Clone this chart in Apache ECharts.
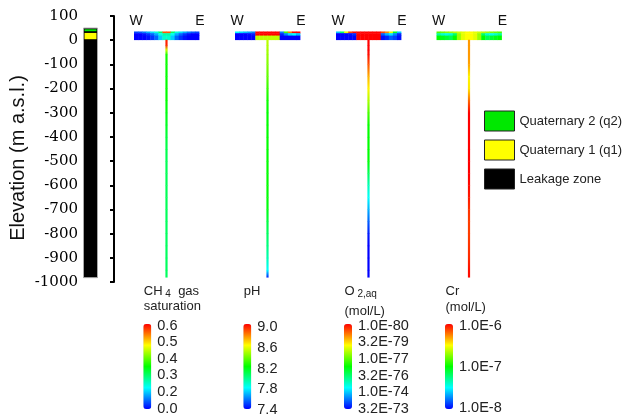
<!DOCTYPE html>
<html><head><meta charset="utf-8">
<script src="https://cdn.jsdelivr.net/npm/echarts@6/dist/echarts.min.js"></script>
<style>html,body{margin:0;padding:0;background:#fff}#c{width:633px;height:420px}</style>
</head><body><div id="c"></div>
<script>
// ---------------- data ----------------
const elevMin = -1000, elevMax = 100, elevStep = 100;

const layerNames  = ['Quaternary 2 (q2)', 'Quaternary 1 (q1)', 'Leakage zone'];
const layerTop    = [45, 30, 50];
const layerBottom = [37, 4, -982];
const layerColors = ['#00e800', '#ffff00', '#000000'];

const panelTitle1 = ['{n|CH}{s| 4}{n|  gas}', '{n|pH}', '{n|O}{s| 2,aq}', '{n|Cr}'];
const panelTitle2 = ['saturation', '', '(mol/L)', '(mol/L)'];
const sideLabels = ['W', 'E'];

// value at blue end / value at red end of each colour scale
const colorLow  = [0.0, 7.4, -72.5, -8];   // O2 and Cr in log10(mol/L)
const colorHigh = [0.6, 9.0, -80.0, -6];

// colour-bar tick labels (bottom -> top)
const cbLabelsCH4 = ['0.0', '0.2', '0.3', '0.4', '0.5', '0.6'];
const cbLabelsPH  = ['7.4', '7.8', '8.2', '8.6', '9.0'];
const cbLabelsO2  = ['3.2E-73', '1.0E-74', '3.2E-76', '1.0E-77', '3.2E-79', '1.0E-80'];
const cbLabelsCr  = ['1.0E-8', '1.0E-7', '1.0E-6'];

// well (stem) profiles: values at elevation nodes
const stemElev = [2, -20, -40, -60, -100, -150, -200, -250, -300, -350, -400, -450, -500,
                  -550, -600, -650, -700, -750, -800, -850, -900, -950, -980];
const stemCH4 = [0.58, 0.58, 0.42, 0.31, 0.305, 0.30, 0.30, 0.30, 0.29, 0.28, 0.265, 0.255, 0.25,
                 0.25, 0.25, 0.25, 0.248, 0.246, 0.245, 0.245, 0.245, 0.245, 0.245];
const stemPH  = [8.5, 8.48, 8.46, 8.44, 8.4, 8.35, 8.28, 8.22, 8.2, 8.2, 8.2, 8.2, 8.2,
                 8.2, 8.2, 8.19, 8.17, 8.1, 8.05, 8.0, 7.92, 7.8, 7.45];
const stemO2  = [-80, -80, -80, -79.9, -79.4, -78.7, -78.2, -77.5, -76.8, -76.3, -76.25, -76.25, -76.2,
                 -75.6, -74.9, -74.4, -73.8, -73.2, -72.7, -72.5, -72.5, -72.5, -72.5];
const stemCr  = [-6.3, -6.3, -6.3, -6.3, -6.32, -6.48, -6.45, -6.2, -6.0, -6.0, -6.0, -6.0, -6.0,
                 -6.0, -6.02, -6.05, -6.1, -6.12, -6.12, -6.1, -6.08, -6.03, -6.02];

// near-surface cross-section (W -> E), three layers top -> bottom
const slabRowElev = [36, 29, 19, 2];
const slabCH4 = [
  [0.04,0.05,0.07,0.10,0.13,0.17,0.24,0.55,0.55,0.24,0.17,0.13,0.10,0.07,0.05,0.04],
  [0.00,0.00,0.01,0.03,0.06,0.10,0.16,0.20,0.20,0.16,0.10,0.06,0.03,0.01,0.00,0.00],
  [0.00,0.00,0.00,0.01,0.03,0.06,0.12,0.18,0.18,0.12,0.06,0.03,0.01,0.00,0.00,0.00]];
const slabPH = [
  [7.80,7.75,7.70,7.65,7.60,9.0,9.0,9.0,9.0,9.0,9.0,7.60,8.30,8.80,9.00,9.00],
  [7.40,7.40,7.40,7.42,7.45,9.0,9.0,9.0,9.0,9.0,9.0,7.45,7.60,7.75,7.80,7.70],
  [7.40,7.40,7.40,7.40,7.40,8.5,8.5,8.5,8.5,8.5,8.5,7.40,7.40,7.40,7.40,7.40]];
const slabO2 = [
  [-74.0,-75.5,-78.0,-79.5,-80,-80,-80,-80,-80,-80,-80,-79.5,-79.0,-78.0,-76.0,-74.0],
  [-72.5,-72.5,-72.5,-72.6,-72.8,-80,-80,-80,-80,-80,-80,-73.2,-73.8,-74.2,-73.5,-72.8],
  [-72.5,-72.5,-72.5,-72.5,-72.5,-80,-80,-80,-80,-80,-80,-72.6,-72.8,-73.2,-73.0,-72.6]];
const slabCr = [
  [-6.85,-6.80,-6.75,-6.70,-6.65,-6.60,-6.55,-6.50,-6.50,-6.55,-6.60,-6.65,-6.70,-6.75,-6.80,-6.85],
  [-7.30,-7.40,-7.45,-7.40,-7.20,-6.70,-6.55,-6.50,-6.50,-6.55,-6.70,-7.20,-7.40,-7.45,-7.40,-7.30],
  [-7.00,-7.05,-7.10,-7.15,-7.00,-6.70,-6.55,-6.50,-6.50,-6.55,-6.70,-7.00,-7.15,-7.10,-7.05,-7.00]];

const stems = [stemCH4, stemPH, stemO2, stemCr];
const slabs = [slabCH4, slabPH, slabO2, slabCr];
const cbLabels = [cbLabelsCH4, cbLabelsPH, cbLabelsO2, cbLabelsCr];

// ---------------- layout / style ----------------
const JET = ['#0000ff', '#00ffff', '#00ff00', '#ffff00', '#ff0000'];
const SANS = 'Liberation Sans';
const GT = 16, GH = 266;
const slabLeft = [134, 235, 336, 436.5];
const slabWidthUnits = 64, slabColW = 4;
const cbLeft = [143.3, 243.3, 344, 445];
const cbTop = 324, cbH = 85;
const cbLabTop = [325.5, 327.3, 325.8, 326];
const cbLabH = [83.2, 82.7, 83.2, 82.3];
const titleY1 = 291.5, titleY2 = [306.7, 0, 311.5, 307.5];

function jetColor(p, v) {
  let t = (v - colorLow[p]) / (colorHigh[p] - colorLow[p]);
  t = Math.max(0, Math.min(1, t));
  return echarts.color.lerp(t, JET);
}

const grids = [], xAxes = [], yAxes = [], series = [], visualMaps = [], graphics = [];
// grid 0: elevation axis
grids.push({left: 114, top: GT, width: 1, height: GH});
xAxes.push({gridIndex: 0, type: 'value', min: 0, max: 1, show: false});
yAxes.push({gridIndex: 0, type: 'value', min: elevMin, max: elevMax, interval: elevStep,
  name: 'Elevation (m a.s.l.)', nameLocation: 'middle', nameGap: 86, nameRotate: 90,
  nameTextStyle: {fontFamily: SANS, fontSize: 20, color: '#111', padding: [0, 18, 0, 0]},
  axisLine: {show: true, lineStyle: {color: '#000', width: 2}},
  axisTick: {show: true, inside: false, length: 4, lineStyle: {color: '#000', width: 2}},
  axisLabel: {margin: 36, fontFamily: 'DejaVu Serif', fontSize: 15, color: '#000',
              formatter: v => String(v)},
  splitLine: {show: false}});
// grid 1: leakage-zone column
grids.push({left: 83, top: GT, width: 15, height: GH});
xAxes.push({gridIndex: 1, type: 'value', min: 0, max: 1, show: false});
yAxes.push({gridIndex: 1, type: 'value', min: elevMin, max: elevMax, show: false});
[2, 1, 0].forEach(k => {
  series.push({
    type: 'custom', name: layerNames[k], xAxisIndex: 1, yAxisIndex: 1,
    itemStyle: {color: layerColors[k]}, silent: true, z: k === 2 ? 2 : 3,
    data: [[layerTop[k], layerBottom[k]]], encode: {y: [0, 1]},
    renderItem: (params, api) => {
      const a = api.coord([0, api.value(0)]), b = api.coord([1, api.value(1)]);
      const inset = k === 2 ? 0.5 : 1.5;
      return {type: 'rect',
        shape: {x: a[0] + inset, y: a[1], width: b[0] - a[0] - 2 * inset, height: b[1] - a[1]},
        style: k === 2 ? {fill: api.visual('color'), stroke: '#a8a8a8', lineWidth: 1}
                       : {fill: api.visual('color')}};
    }
  });
});
// panels
for (let p = 0; p < 4; p++) {
  const gi = grids.length;
  grids.push({left: slabLeft[p], top: GT, width: 65, height: GH});
  xAxes.push({gridIndex: gi, type: 'value', min: 0, max: slabWidthUnits, show: false});
  yAxes.push({gridIndex: gi, type: 'value', min: elevMin, max: elevMax, show: false});
  const slabData = [];
  slabs[p].forEach((row, r) => row.forEach((v, c) => slabData.push([c, r, v])));
  const slabIndex = series.length;
  series.push({
    type: 'custom', xAxisIndex: gi, yAxisIndex: gi, silent: true,
    data: slabData, encode: {x: 0, y: 1},
    renderItem: (params, api) => {
      const c = api.value(0), r = api.value(1);
      const a = api.coord([c * slabColW, slabRowElev[r]]);
      const b = api.coord([(c + 1) * slabColW, slabRowElev[r + 1]]);
      return {type: 'rect', shape: {x: a[0], y: a[1], width: b[0] - a[0] + 0.4, height: b[1] - a[1] + 0.4},
              style: {fill: api.visual('color')}};
    }
  });
  const stemData = [];
  for (let i = 0; i < stemElev.length - 1; i++)
    stemData.push([stemElev[i], stemElev[i + 1], stems[p][i], stems[p][i + 1]]);
  series.push({
    type: 'custom', xAxisIndex: gi, yAxisIndex: gi, silent: true,
    data: stemData, encode: {y: [0, 1]},
    renderItem: (params, api) => {
      const a = api.coord([slabWidthUnits / 2, api.value(0)]);
      const b = api.coord([slabWidthUnits / 2, api.value(1)]);
      return {type: 'rect', shape: {x: a[0] - 1.1, y: a[1], width: 2.2, height: b[1] - a[1] + 0.4},
        style: {fill: new echarts.graphic.LinearGradient(0, 0, 0, 1, [
          {offset: 0, color: jetColor(p, api.value(2))},
          {offset: 1, color: jetColor(p, api.value(3))}])}};
    }
  });
  const lo = colorLow[p], hi = colorHigh[p];
  visualMaps.push({
    type: 'continuous', seriesIndex: slabIndex, dimension: 2,
    min: Math.min(lo, hi), max: Math.max(lo, hi),
    inRange: {color: lo < hi ? JET.slice() : JET.slice().reverse()},
    inverse: lo > hi, calculable: false, hoverLink: false, show: true,
    left: cbLeft[p], top: cbTop, itemWidth: 8, itemHeight: cbH, padding: 0
  });
  // colour-bar tick labels
  const ci = grids.length;
  grids.push({left: cbLeft[p] + 8, top: cbLabTop[p], width: 1, height: cbLabH[p]});
  xAxes.push({gridIndex: ci, type: 'value', min: 0, max: 1, show: false});
  yAxes.push({gridIndex: ci, type: 'category', data: cbLabels[p], boundaryGap: false, position: 'right',
    axisLine: {show: false}, axisTick: {show: false}, splitLine: {show: false},
    axisLabel: {margin: 5, fontFamily: SANS, fontSize: 14.5, color: '#222', interval: 0}});
  // W / E labels
  graphics.push({type: 'text', x: slabLeft[p] + 2, y: 20.7,
    style: {text: sideLabels[0], fontFamily: SANS, fontSize: 14, fill: '#111', align: 'center', verticalAlign: 'middle'}});
  graphics.push({type: 'text', x: slabLeft[p] + 66, y: 20.7,
    style: {text: sideLabels[1], fontFamily: SANS, fontSize: 14, fill: '#111', align: 'center', verticalAlign: 'middle'}});
  // titles
  graphics.push({type: 'text', x: cbLeft[p] + 0.5, y: titleY1,
    style: {text: panelTitle1[p], align: 'left', verticalAlign: 'middle',
      rich: {n: {fontFamily: SANS, fontSize: 13, fill: '#222', lineHeight: 16},
             s: {fontFamily: SANS, fontSize: 10, fill: '#222', lineHeight: 10, verticalAlign: 'bottom'}}}});
  if (panelTitle2[p]) graphics.push({type: 'text', x: cbLeft[p] + 0.5, y: titleY2[p],
    style: {text: panelTitle2[p], fontFamily: SANS, fontSize: 13, fill: '#222', align: 'left', verticalAlign: 'middle'}});
}

const chart = echarts.init(document.getElementById('c'), null, {renderer: 'canvas'});
chart.setOption({
  animation: false,
  backgroundColor: '#fff',
  grid: grids, xAxis: xAxes, yAxis: yAxes,
  visualMap: visualMaps,
  legend: {data: layerNames, orient: 'vertical', left: 484, top: 110.5, itemWidth: 30, itemHeight: 20,
    itemGap: 8, icon: 'rect', selectedMode: false, padding: 0,
    itemStyle: {borderColor: '#222', borderWidth: 1},
    textStyle: {fontFamily: SANS, fontSize: 13, color: '#222'}},
  series: series,
  graphic: graphics
});
</script></body></html>
